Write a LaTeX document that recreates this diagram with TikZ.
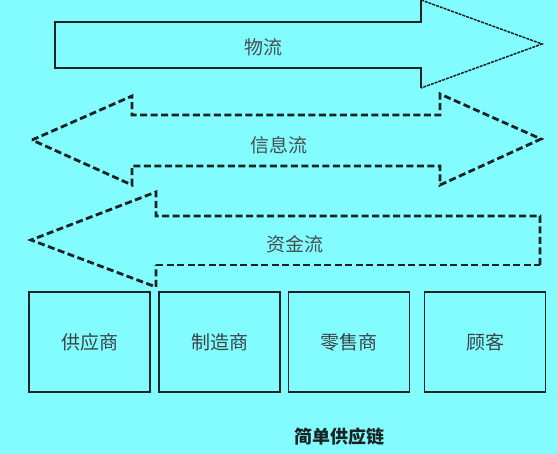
\documentclass[tikz,border=0pt]{standalone}
\usepackage{fontspec}
\setmainfont{Noto Sans CJK SC}
\usepackage{tikz}
\usetikzlibrary{positioning,calc}
\definecolor{chainbg}{RGB}{130, 252, 255}
\definecolor{chainline}{RGB}{25, 35, 35}

\tikzset{
    party/.style={draw=chainline, line width=1.7pt, rectangle, minimum width=121pt, minimum height=100pt, font=\fontsize{19}{21}\selectfont, text=chainline!85},
    flowlabel/.style={font=\fontsize{19}{21}\selectfont, text=chainline!80},
    flowdash/.style={draw=chainline, line width=2.8pt, dash pattern=on 7pt off 3.5pt},
}

\begin{document}
\begin{tikzpicture}[x=1pt, y=-1pt]
    \fill [chainbg] (0,0) rectangle (557,454);
    \useasboundingbox (0,0) rectangle (557,454);

    % goods flow, solid body and fine dashed head
    \draw [chainline, line width=1.7pt] (421,0) -- (421,22) -- (55,22) -- (55,68) -- (421,68) -- (421,88);
    \draw [chainline, line width=1.5pt, dash pattern=on 3pt off 1pt] (421,0) -- (542,44) -- (421,88);
    \node [flowlabel] (goods) at (263,47) {物流};

    % information flow, both ways
    \draw [flowdash] (32,140) -- (132,96) -- (132,115) -- (440,115) -- (440,94) -- (541,139)
        -- (440,185) -- (440,166) -- (132,166) -- (132,185) -- cycle;
    \node [flowlabel] (info) at (279,145) {信息流};

    % funds flow, backwards
    \draw [flowdash] (540,265) -- (540,216) -- (156,216) -- (156,192) -- (31,240) -- (156,287) -- (156,265);
    \draw [flowdash, line width=2pt] (156,265) -- (540,265);
    \node [flowlabel] (funds) at (295,244) {资金流};

    % members of the chain
    \node [party] (sup) at (89.5,342) {供应商};
    \node [party] (mfr) at (219.5,342) {制造商};
    \node [party] (ret) at (349,342) {零售商};
    \node [party] (cust) at (485,342) {顾客};

    \node [font=\fontsize{18}{20}\selectfont\bfseries, text=chainline] (title) at (339,437) {简单供应链};
\end{tikzpicture}
\end{document}
